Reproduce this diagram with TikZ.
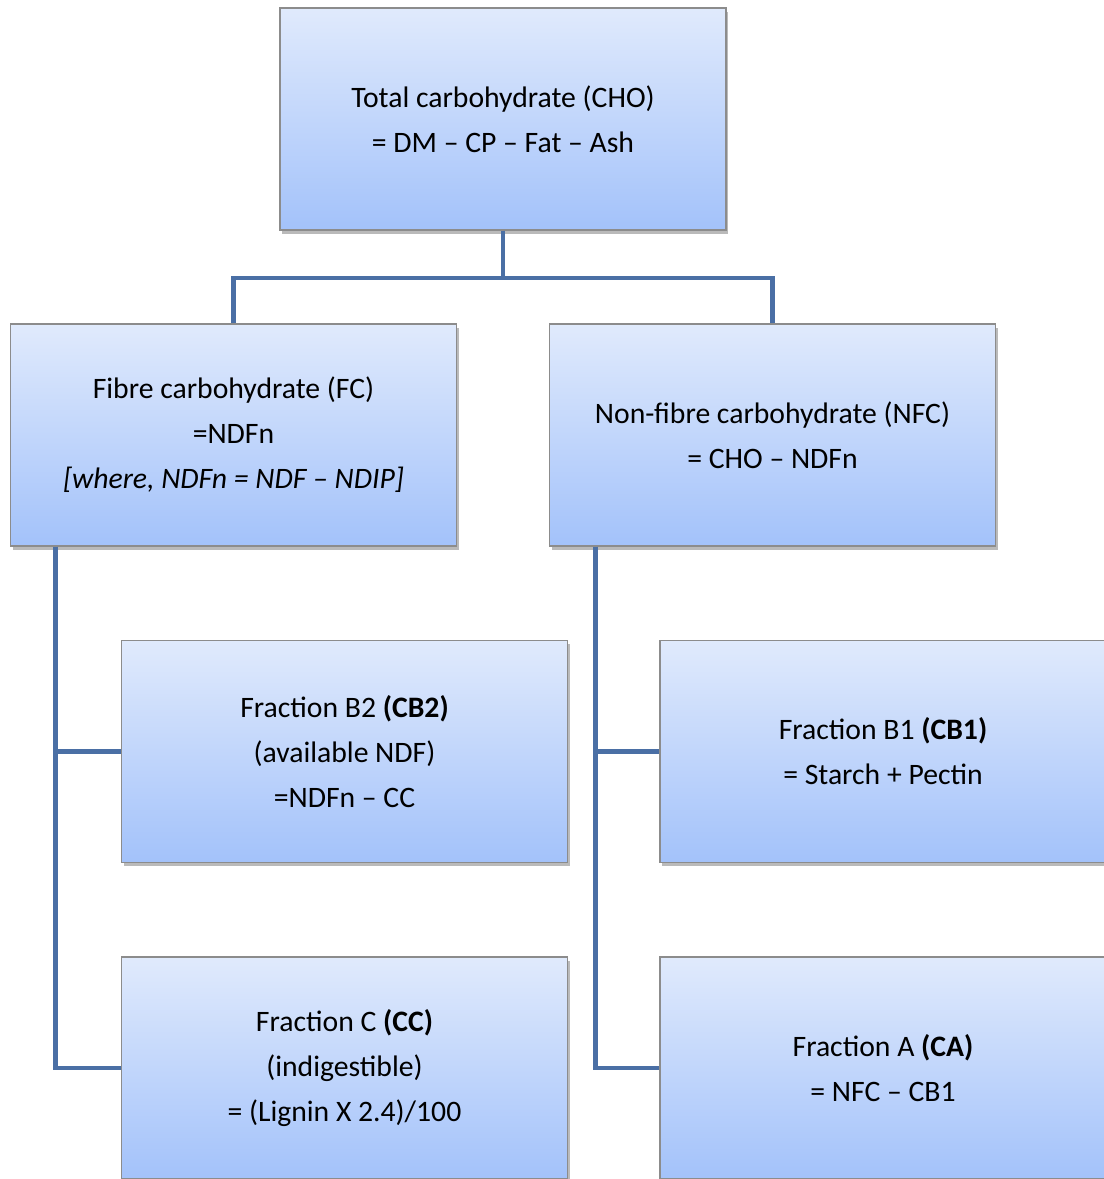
\documentclass[tikz,border=0pt]{standalone}
\usepackage{fontspec}
\setmainfont{Carlito}
\usetikzlibrary{shadows}

\definecolor{boxtop}{HTML}{E0EAFC}
\definecolor{boxbot}{HTML}{A3C2FA}
\definecolor{boxline}{HTML}{8C8C8C}
\definecolor{linkblue}{HTML}{4A6FA5}

\tikzset{
  carbbox/.style={rectangle, draw=boxline, line width=0.8pt,
    top color=boxtop, bottom color=boxbot,
    minimum width=8.92cm, minimum height=4.44cm,
    align=center, font=\fontsize{16.9}{25.6}\selectfont,
    drop shadow={shadow xshift=1.2pt, shadow yshift=-2.2pt, opacity=0.45, fill=black!60}},
  link/.style={draw=linkblue, line width=2.8pt}
}

\begin{document}
\begin{tikzpicture}[x=0.02cm,y=-0.02cm]
\useasboundingbox (0,0) rectangle (1103,1179);

%boxes
\node[carbbox] (cho) at (503,119) {Total carbohydrate (CHO)\\= DM – CP – Fat – Ash};
\node[carbbox] (fc) at (233.5,435) {Fibre carbohydrate (FC)\\=NDFn\\\textit{[where, NDFn = NDF – NDIP]}};
\node[carbbox] (nfc) at (772.5,435) {Non-fibre carbohydrate (NFC)\\= CHO – NDFn};
\node[carbbox] (cbtwo) at (344.5,751.5) {Fraction B2 \textbf{(CB2)}\\(available NDF)\\=NDFn – CC};
\node[carbbox] (cbone) at (883,751.5) {Fraction B1 \textbf{(CB1)}\\= Starch + Pectin};
\node[carbbox] (cc) at (344.5,1068) {Fraction C \textbf{(CC)}\\(indigestible)\\= (Lignin X 2.4)/100};
\node[carbbox] (ca) at (883,1068) {Fraction A \textbf{(CA)}\\= NFC – CB1};

%top split
\coordinate (split) at (503,278);
\draw[link] (cho.south) -- (split) -| (fc.north);
\draw[link] (split) -| (nfc.north);

%left spine
\draw[link] ([xshift=0.92cm]fc.south west) |- (cbtwo.west);
\draw[link] ([xshift=0.92cm]fc.south west) |- (cc.west);

%right spine
\draw[link] ([xshift=0.94cm]nfc.south west) |- (cbone.west);
\draw[link] ([xshift=0.94cm]nfc.south west) |- (ca.west);

\end{tikzpicture}
\end{document}
